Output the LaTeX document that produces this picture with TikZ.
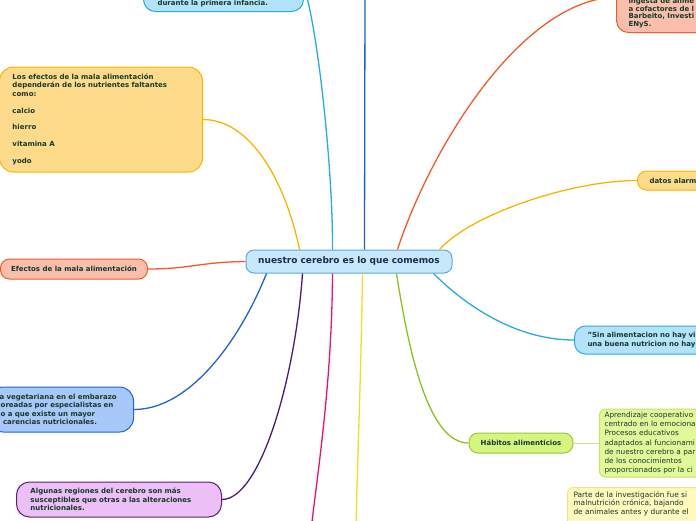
\documentclass[tikz,border=0pt]{standalone}
\usepackage{fontspec}
\setmainfont{DejaVu Sans}
\usetikzlibrary{calc}
\definecolor{txt}{HTML}{17392B}
\definecolor{ctxt}{HTML}{1B2A4E}
\definecolor{cfill}{HTML}{C7E8FA}
\definecolor{cdraw}{HTML}{5BA8DE}
\definecolor{cyline}{HTML}{29A9E1}
\definecolor{cyfill}{HTML}{B3E3FA}
\definecolor{dbline}{HTML}{1A5FCF}
\definecolor{orline}{HTML}{F15A29}
\definecolor{orfill}{HTML}{F9BFAC}
\definecolor{yoline}{HTML}{F7B500}
\definecolor{yofill}{HTML}{FDDB8B}
\definecolor{grline}{HTML}{8CC21E}
\definecolor{grfill}{HTML}{D6F57F}
\definecolor{grdraw}{HTML}{9CC73A}
\definecolor{lgfill}{HTML}{E2F99A}
\definecolor{lgdraw}{HTML}{C5E36A}
\definecolor{lgline}{HTML}{C9DF96}
\definecolor{ylline}{HTML}{F4DC20}
\definecolor{ylfill}{HTML}{FEF9BC}
\definecolor{yldraw}{HTML}{F3E383}
\definecolor{mgline}{HTML}{EC1170}
\definecolor{puline}{HTML}{4B1B6C}
\definecolor{pufill}{HTML}{ECBFF6}
\definecolor{pudraw}{HTML}{5B2174}
\definecolor{blline}{HTML}{1F62D2}
\definecolor{blfill}{HTML}{A9C8FA}
\definecolor{bldraw}{HTML}{1F62D2}
\begin{document}
\begin{tikzpicture}[x=1pt,y=-1pt,
  box/.style={draw, line width=1pt, rounded corners=9pt, text=txt,
    font=\fontsize{7}{8.4}\selectfont\bfseries},
  conn/.style={line width=1.3pt},
  plain/.style={font=\fontsize{7.3}{9.1}\selectfont}
]
\useasboundingbox (0,0) rectangle (696,520);
\clip (0,0) rectangle (696,520);

% central
\node[box, fill=cfill, draw=cdraw, minimum width=206pt, minimum height=23pt, inner sep=0pt,
  font=\fontsize{9}{10}\selectfont\bfseries, text=ctxt, rounded corners=8pt] (c) at (349,261.5)
  {nuestro cerebro es lo que comemos};

% top-left cyan
\node[box, fill=cyfill, draw=cyline, anchor=south west, text width=132pt, inner xsep=14pt,
  inner ysep=4pt, text height=40pt, text depth=2pt, align=left, rounded corners=12pt] (n1) at (143,12)
  {durante la primera infancia.};

% top-right orange
\node[box, fill=orfill, draw=orline, anchor=south west, inner xsep=12pt, inner ysep=4.5pt,
  text height=60pt, text depth=2pt, rounded corners=12pt] (n2) at (616,33)
  {\parbox[b]{110pt}{\raggedright\fontsize{7}{7.4}\selectfont ingesta de alime\\a cofactores de l\\Barbeito, Investi\\ENyS.}};

% datos alarm
\node[box, fill=yofill, draw=yoline, anchor=west, minimum height=19pt, text width=80pt,
  inner xsep=12pt, inner ysep=0pt, align=left] (n3) at (637,180.5) {datos alarm};

% Sin alimentacion
\node[box, fill=cyfill, draw=cyline, anchor=west, minimum height=28pt, text width=140pt,
  inner xsep=13pt, inner ysep=0pt, align=left, rounded corners=11pt] (n4) at (574,340)
  {"Sin alimentacion no hay vi\\una buena nutricion no hay};

% Habitos
\node[box, fill=grfill, draw=grdraw, minimum width=104pt, minimum height=20pt, inner sep=0pt] (n5)
  at (521,443) {Hábitos alimenticios};

% Aprendizaje
\node[box, plain, fill=lgfill, draw=lgdraw, anchor=west, minimum height=68pt, text width=120pt,
  inner xsep=5pt, inner ysep=2pt, align=left, rounded corners=6pt] (n6) at (599,443)
  {Aprendizaje cooperativo\\centrado en lo emociona\\Procesos educativos\\adaptados al funcionami\\de nuestro cerebro a par\\de los conocimientos\\proporcionados por la ci};

% Parte de la investigacion
\node[box, fill=ylfill, draw=yldraw, anchor=north west, inner xsep=6pt, inner ysep=4pt,
  text height=5.6pt, text depth=40pt, rounded corners=6pt] (n7) at (567,487)
  {\parbox[t]{140pt}{\raggedright\fontsize{7.4}{8.5}\selectfont\mdseries Parte de la investigación fue si\\malnutrición crónica, bajando\\de animales antes y durante el}};

% Algunas regiones
\node[box, fill=pufill, draw=pudraw, anchor=west, minimum height=35pt, text width=177pt,
  inner xsep=14pt, inner ysep=0pt, align=left, rounded corners=13pt] (n8) at (16,499.5)
  {Algunas regiones del cerebro son más\\susceptibles que otras a las alteraciones\\nutricionales.};

% vegetariana
\node[box, fill=blfill, draw=bldraw, anchor=east, minimum height=45pt, text width=124pt,
  inner xsep=10pt, inner ysep=0pt, align=left, rounded corners=14pt] (n9) at (134,409.5)
  {a vegetariana en el embarazo\\\hspace*{1.2pt}oreadas por especialistas en\\\hspace*{1.2pt}o a que existe un mayor\\\hspace*{3.5pt}carencias nutricionales.};

% Efectos
\node[box, fill=orfill, draw=orline, anchor=west, minimum width=147pt, minimum height=20pt,
  inner sep=0pt] (n10) at (0,269) {Efectos de la mala alimentación};

% big yellow
\node[box, fill=yofill, draw=yoline, anchor=east, minimum height=105pt, text width=177pt,
  inner xsep=13pt, inner ysep=0pt, align=left, rounded corners=14pt] (n11) at (203,119.5)
  {Los efectos de la mala alimentación\\dependerán de los nutrientes faltantes\\como:\\[8.4pt]calcio\\[8.4pt]hierro\\[8.4pt]vitamina A\\[8.4pt]yodo};

% free ends
\coordinate (topblue) at (365,-10);
\coordinate (botyellow) at (356,530);
\coordinate (botmag) at (311,530);

% connectors
\draw[conn, cyline] ($(c.north west)+(87,0)$) .. controls (333,170) and (318,30) .. (n1.east);
\draw[conn, dbline] ($(c.north west)+(119,0)$) -- (topblue);
\draw[conn, orline] ($(c.north west)+(152,0)$) .. controls (430,150) and (520,0) .. (n2.west);
\draw[conn, yoline] ($(c.north west)+(194,0)$) .. controls (470,215) and (570,180.5) .. (n3.west);
\draw[conn, cyline] ($(c.south west)+(188,0)$) .. controls (470,310) and (520,340) .. (n4.west);
\draw[conn, grline] ($(c.south west)+(151,0)$) .. controls (410,360) and (430,443) .. (n5.west);
\draw[line width=0.8pt, lgline] (n5.east) -- (n6.west);
\draw[conn, ylline] ($(c.south west)+(117,0)$) .. controls (361,380) and (357,470) .. (botyellow);
\draw[conn, mgline] ($(c.south west)+(87,0)$) .. controls (332,380) and (318,470) .. (botmag);
\draw[conn, puline] ($(c.south west)+(57,0)$) .. controls (295,380) and (260,499.5) .. (n8.east);
\draw[conn, blline] ($(c.south west)+(21,0)$) .. controls (240,340) and (190,409.5) .. (n9.east);
\draw[conn, orline] (c.west) .. controls (200,262) and (190,269) .. (n10.east);
\draw[conn, yoline] ($(c.north west)+(54,0)$) .. controls (285,180) and (250,119.5) .. (n11.east);
\end{tikzpicture}
\end{document}
